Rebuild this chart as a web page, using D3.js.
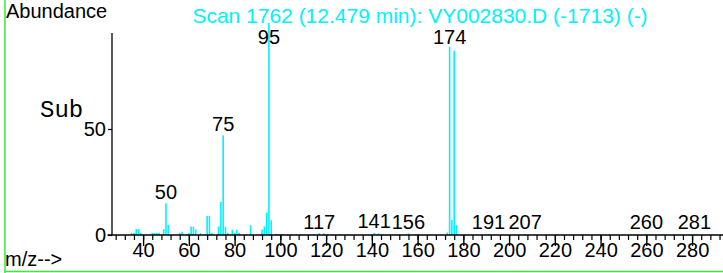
<!DOCTYPE html>
<html>
<head>
<meta charset="utf-8">
<script src="https://cdn.jsdelivr.net/npm/d3@7"></script>
<style>
  html, body { margin: 0; padding: 0; background: #fff; }
  svg { display: block; font-family: "Liberation Sans", Arial, Helvetica, sans-serif; }
</style>
</head>
<body>
<svg id="chart" width="723" height="273"></svg>
<script>
// ---- data ----
const titleText = "Scan 1762 (12.479 min): VY002830.D (-1713) (-)";
const mzValues = [35, 36, 37, 38, 39, 44, 45, 46, 47, 49, 50, 51, 56, 57, 60, 61, 62, 63, 65,
  68, 69, 70, 73, 74, 75, 76, 77, 79, 80, 81, 82, 85, 87, 92, 93, 94, 95, 96, 98, 99,
  101, 103, 105, 107, 109, 111, 115, 117, 119, 121, 126, 129, 131, 141, 143, 145, 148,
  152, 156, 160, 165, 173, 174, 175, 176, 177, 191, 192, 207, 221, 260, 281, 282];
const abundances = [1, 1, 2.8, 2.8, 1.1, 1, 1, 1, 1, 2.8, 15, 4.7, 1, 1.6, 1, 4, 4, 2.6, 0.8,
  9, 9, 1, 4, 15.6, 47, 3.8, 1, 2.5, 1, 2.5, 1, 0.5, 4.6, 2.6, 4, 10.5, 100, 7, 0.5, 0.5,
  0.4, 0.3, 0.4, 0.3, 0.3, 0.3, 0.5, 0.9, 0.9, 0.3, 0.4, 0.3, 0.3, 1, 0.8, 0.4, 0.3,
  0.3, 0.8, 0.3, 0.3, 1.2, 88.8, 7, 86.9, 4.7, 0.5, 0.3, 0.5, 0.4, 0.5, 0.5, 0.3];
const labeledPeaks = [50, 75, 95, 117, 141, 156, 174, 191, 207, 260, 281];
const xMajorTicks = [40, 60, 80, 100, 120, 140, 160, 180, 200, 220, 240, 260, 280];
const xMinorTicks = d3.range(28, 293, 4);
const yTicks = [0, 50];

// ---- layout ----
const svg = d3.select("#chart");
const cyan = "#00f2ff";
const sans = "'Liberation Sans', Arial, Helvetica, sans-serif";
const x = d3.scaleLinear().domain([26.4, 294]).range([112, 724.1]);
const y = d3.scaleLinear().domain([0, 100]).range([235, 23]);
const baseY = y(0);

// green frame lines
svg.append("line").attr("x1", 5).attr("x2", 5).attr("y1", 0).attr("y2", 273)
  .attr("stroke", "#33ee33").attr("stroke-width", 1.5);
svg.append("line").attr("x1", 5).attr("x2", 723).attr("y1", 271.5).attr("y2", 271.5)
  .attr("stroke", "#33ee33").attr("stroke-width", 1.5);

// bars
const peaks = mzValues.map((m, i) => ({ mz: m, v: abundances[i] }));
svg.append("g").selectAll("rect").data(peaks).join("rect")
  .attr("x", d => x(d.mz) - 0.8)
  .attr("width", 1.6)
  .attr("y", d => y(d.v))
  .attr("height", d => baseY - y(d.v))
  .attr("fill", cyan);

// x axis
const gx = svg.append("g").attr("transform", `translate(0,${baseY})`);
gx.append("g").call(d3.axisBottom(x).tickValues(xMinorTicks).tickSize(5).tickFormat(""))
  .call(g => g.select(".domain").remove())
  .call(g => g.selectAll("line").attr("stroke", "#000").attr("stroke-width", 1.2));
gx.append("g").call(d3.axisBottom(x).tickValues(xMajorTicks).tickSize(11).tickFormat(d3.format("d")))
  .call(g => g.select(".domain").remove())
  .call(g => g.selectAll("line").attr("stroke", "#000").attr("stroke-width", 1.4))
  .call(g => g.selectAll("text").attr("y", 21.5).attr("dy", 0)
    .attr("font-size", 20).attr("fill", "#000").attr("font-family", sans));
svg.append("line").attr("x1", 107.5).attr("x2", 723).attr("y1", baseY).attr("y2", baseY)
  .attr("stroke", "#000").attr("stroke-width", 1.3);

// y axis
svg.append("line").attr("x1", 112).attr("x2", 112).attr("y1", 33).attr("y2", baseY)
  .attr("stroke", "#000").attr("stroke-width", 1.3);
svg.append("g").attr("transform", "translate(112,0)")
  .call(d3.axisLeft(y).tickValues(yTicks).tickSize(4).tickPadding(2).tickFormat(d3.format("d")))
  .call(g => g.select(".domain").remove())
  .call(g => g.selectAll("line").attr("stroke", "#000").attr("stroke-width", 1.2))
  .call(g => g.selectAll("text").attr("font-size", 20).attr("fill", "#000").attr("font-family", sans));

// peak labels
const labelData = peaks.filter(d => labeledPeaks.includes(d.mz));
svg.append("g").selectAll("text").data(labelData).join("text")
  .attr("x", d => x(d.mz))
  .attr("y", d => Math.max(y(d.v) - 4.5, 43.5))
  .attr("text-anchor", "middle")
  .attr("font-size", 20)
  .attr("fill", "#000")
  .text(d => d.mz);

// texts
svg.append("text").attr("x", 6).attr("y", 18).attr("font-size", 20).attr("fill", "#000").text("Abundance");
svg.append("text").attr("x", 420).attr("y", 23).attr("text-anchor", "middle")
  .attr("font-size", 21).attr("fill", cyan).text(titleText);
svg.append("text").attr("x", 40).attr("y", 117).attr("font-size", 24)
  .style("font-family", "'Liberation Mono', 'Courier New', monospace").attr("fill", "#000").text("Sub");
svg.append("text").attr("x", 5).attr("y", 266).attr("font-size", 20).attr("fill", "#000").text("m/z-->");
</script>
</body>
</html>
